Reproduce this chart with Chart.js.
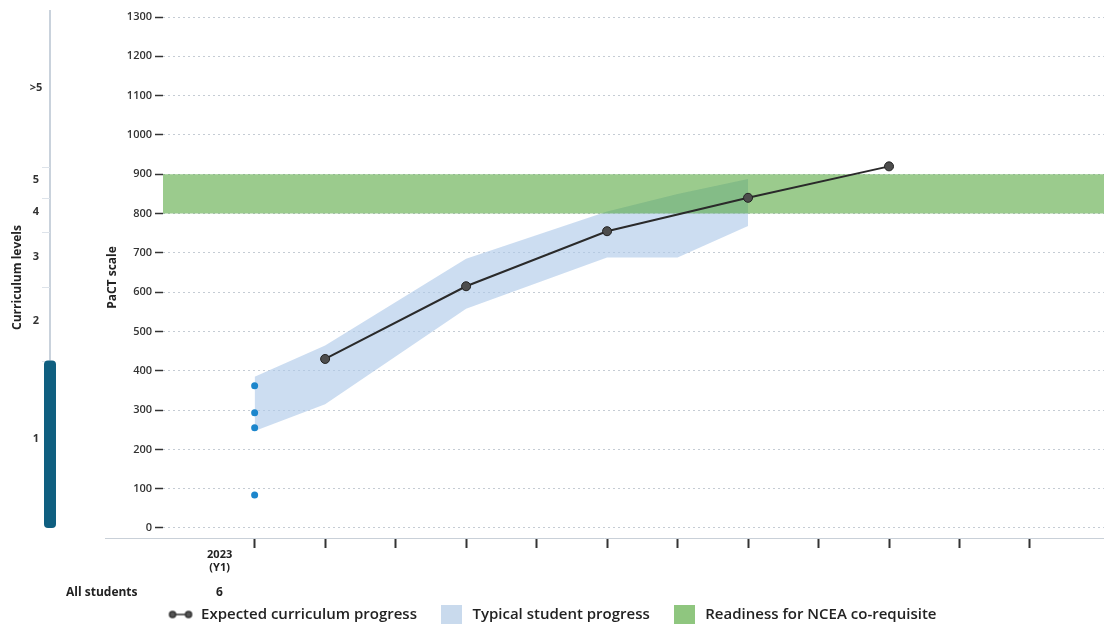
<!DOCTYPE html>
<html>
<head>
<meta charset="utf-8">
<script src="https://cdn.jsdelivr.net/npm/chart.js@4.4.0/dist/chart.umd.min.js"></script>
<style>
  html, body { margin: 0; padding: 0; background: #fff; overflow: hidden; }
  #wrap { width: 1104px; height: 628px; }
</style>
</head>
<body>
<div id="wrap"><canvas id="chart"></canvas></div>
<script>
// x values are step positions along the axis; step 0 is 2023 (Y1)
const stepTicks = [0, 1, 2, 3, 4, 5, 6, 7, 8, 9, 10, 11];
const firstStepLabel = ['2023', '(Y1)'];
const rowTitle = 'All students';
const studentCount = '6';

const studentX = [0, 0, 0, 0];
const studentScores = [362, 293, 255, 84];

const expectedX = [1, 3, 5, 7, 9];
const expectedScores = [430, 615, 755, 840, 920];

const typicalX = [0, 1, 3, 5, 6, 7];
const typicalUpper = [385, 464, 685, 805, 850, 888];
const typicalLower = [247, 315, 558, 688, 688, 768];

const readinessLow = 800;
const readinessHigh = 900;

const yTicks = [0, 100, 200, 300, 400, 500, 600, 700, 800, 900, 1000, 1100, 1200, 1300];

// curriculum levels (left strip), in PaCT scale units
const levelNames = ['1', '2', '3', '4', '5', '>5'];
const levelLabelAt = [227, 528, 691, 803, 885, 1119];
const levelBounds = [426, 612, 752, 839, 918];
const levelTop = 1318;

const xMin = -1.3;
const xMax = 12.05;
const FONT = "'Open Sans', 'Noto Sans', sans-serif";

const pts = (xs, ys) => xs.map((x, i) => ({ x: x, y: ys[i] }));

// legend icons
function lineIcon() {
    const c = document.createElement('canvas');
    c.width = 26; c.height = 12;
    const g = c.getContext('2d');
    g.strokeStyle = '#333'; g.lineWidth = 1.5;
    g.beginPath(); g.moveTo(5, 6); g.lineTo(21, 6); g.stroke();
    g.fillStyle = '#555';
    [5, 21].forEach(x => {
        g.beginPath(); g.arc(x, 6, 3, 0, Math.PI * 2); g.fill(); g.stroke();
    });
    return c;
}
function boxIcon(color) {
    const c = document.createElement('canvas');
    c.width = 21; c.height = 19;
    const g = c.getContext('2d');
    g.fillStyle = color;
    g.fillRect(0, 0, 21, 19);
    return c;
}

const blueFill = 'rgba(172, 200, 232, 0.62)';
const greenFill = 'rgba(72, 160, 48, 0.55)';

const extras = {
    id: 'extras',
    afterDraw(chart) {
        const ctx = chart.ctx;
        const y = chart.scales.y;
        const x = chart.scales.x;
        const area = chart.chartArea;
        ctx.save();

        // baseline running under the axis
        ctx.strokeStyle = '#c9d0d8';
        ctx.lineWidth = 1;
        ctx.beginPath();
        ctx.moveTo(105, area.bottom + 0.5);
        ctx.lineTo(area.right, area.bottom + 0.5);
        ctx.stroke();

        // curriculum level strip
        const sx = 50;
        ctx.strokeStyle = '#b7c3d0';
        ctx.lineWidth = 1.5;
        ctx.beginPath();
        ctx.moveTo(sx, y.getPixelForValue(levelTop));
        ctx.lineTo(sx, y.getPixelForValue(levelBounds[0]));
        ctx.stroke();
        ctx.strokeStyle = '#dde3ea';
        ctx.lineWidth = 1;
        levelBounds.forEach(v => {
            const py = Math.round(y.getPixelForValue(v)) + 0.5;
            ctx.beginPath(); ctx.moveTo(sx - 8, py); ctx.lineTo(sx, py); ctx.stroke();
        });
        const top = y.getPixelForValue(levelBounds[0]);
        const bot = y.getPixelForValue(0);
        ctx.fillStyle = '#0f5f80';
        ctx.beginPath();
        ctx.roundRect(sx - 6, top, 12, bot - top, 4);
        ctx.fill();

        ctx.fillStyle = '#333';
        ctx.font = 'bold 11px ' + FONT;
        ctx.textAlign = 'center';
        ctx.textBaseline = 'middle';
        levelNames.forEach((n, i) => ctx.fillText(n, 36, y.getPixelForValue(levelLabelAt[i])));

        ctx.save();
        ctx.translate(18, (area.top + area.bottom) / 2);
        ctx.rotate(-Math.PI / 2);
        ctx.font = 'bold 12px ' + FONT;
        ctx.fillStyle = '#222';
        ctx.fillText('Curriculum levels', 0, 0);
        ctx.restore();

        // count row
        const rowY = x.top + 55;
        ctx.font = 'bold 12px ' + FONT;
        ctx.fillStyle = '#222';
        ctx.textAlign = 'left';
        ctx.fillText(rowTitle, 66, rowY);
        ctx.textAlign = 'center';
        ctx.fillText(studentCount, x.getPixelForValue(-0.5), rowY);
        ctx.restore();
    }
};

const ctx = document.getElementById('chart').getContext('2d');
new Chart(ctx, {
    type: 'line',
    data: {
        datasets: [
            {
                label: 'Expected curriculum progress',
                data: pts(expectedX, expectedScores),
                borderColor: '#2a2a2a',
                borderWidth: 2,
                pointRadius: 4.5,
                pointBackgroundColor: '#4d4d4d',
                pointBorderColor: '#222',
                pointBorderWidth: 1,
                fill: false,
                order: 0
            },
            {
                label: 'Students',
                data: pts(studentX, studentScores),
                showLine: false,
                pointRadius: 3.5,
                pointBackgroundColor: '#1c86cc',
                pointBorderColor: '#1c86cc',
                pointBorderWidth: 0,
                order: 1
            },
            {
                label: 'Readiness for NCEA co-requisite',
                data: pts([xMin, xMax], [readinessHigh, readinessHigh]),
                borderWidth: 0,
                pointRadius: 0,
                backgroundColor: greenFill,
                fill: '+1',
                order: 2
            },
            {
                label: 'readiness-low',
                data: pts([xMin, xMax], [readinessLow, readinessLow]),
                borderWidth: 0,
                pointRadius: 0,
                fill: false,
                order: 2
            },
            {
                label: 'Typical student progress',
                data: pts(typicalX, typicalUpper),
                borderWidth: 0,
                pointRadius: 0,
                backgroundColor: blueFill,
                fill: '+1',
                order: 3
            },
            {
                label: 'typical-low',
                data: pts(typicalX, typicalLower),
                borderWidth: 0,
                pointRadius: 0,
                fill: false,
                order: 3
            }
        ]
    },
    options: {
        responsive: true,
        maintainAspectRatio: false,
        animation: false,
        layout: { autoPadding: false, padding: { left: 0, top: 17, right: 0, bottom: -4 } },
        scales: {
            x: {
                type: 'linear',
                min: xMin,
                max: xMax,
                afterBuildTicks: s => { s.ticks = stepTicks.map(v => ({ value: v })); },
                afterFit: s => { s.height = 47; },
                ticks: {
                    callback: v => (v === 0 ? firstStepLabel : ''),
                    labelOffset: -35,
                    padding: 0,
                    autoSkip: false,
                    maxRotation: 0,
                    color: '#222',
                    font: { family: FONT, size: 11, weight: 'bold' }
                },
                grid: { drawOnChartArea: false, tickLength: 10, tickColor: '#333', tickWidth: 2 },
                border: { display: false }
            },
            y: {
                type: 'linear',
                min: -25.5,
                max: 1300,
                afterBuildTicks: s => { s.ticks = yTicks.map(v => ({ value: v })); },
                afterFit: s => { s.width = 163; },
                ticks: {
                    padding: 3,
                    color: '#333',
                    callback: v => String(v),
                    font: { family: FONT, size: 11, weight: '600' }
                },
                grid: { color: '#c5ccd4', lineWidth: 1, tickColor: '#333', tickLength: 8, tickWidth: 1.5 },
                border: { display: false, dash: [2, 3] },
                title: {
                    display: true,
                    text: 'PaCT scale',
                    color: '#222',
                    padding: { top: 105, bottom: 0 },
                    font: { family: FONT, size: 12, weight: 'bold' }
                }
            }
        },
        plugins: {
            tooltip: { enabled: false },
            legend: {
                position: 'bottom',
                labels: {
                    usePointStyle: true,
                    pointStyleWidth: 26,
                    padding: 22,
                    color: '#222',
                    font: { family: FONT, size: 15, weight: '600' },
                    generateLabels: () => [
                        { text: 'Expected curriculum progress', pointStyle: lineIcon(), fontColor: '#222', lineWidth: 0, hidden: false },
                        { text: 'Typical student progress', pointStyle: boxIcon('#c9daed'), fontColor: '#222', lineWidth: 0, hidden: false },
                        { text: 'Readiness for NCEA co-requisite', pointStyle: boxIcon('#8fc67f'), fontColor: '#222', lineWidth: 0, hidden: false }
                    ]
                }
            }
        }
    },
    plugins: [extras]
});
</script>
</body>
</html>
